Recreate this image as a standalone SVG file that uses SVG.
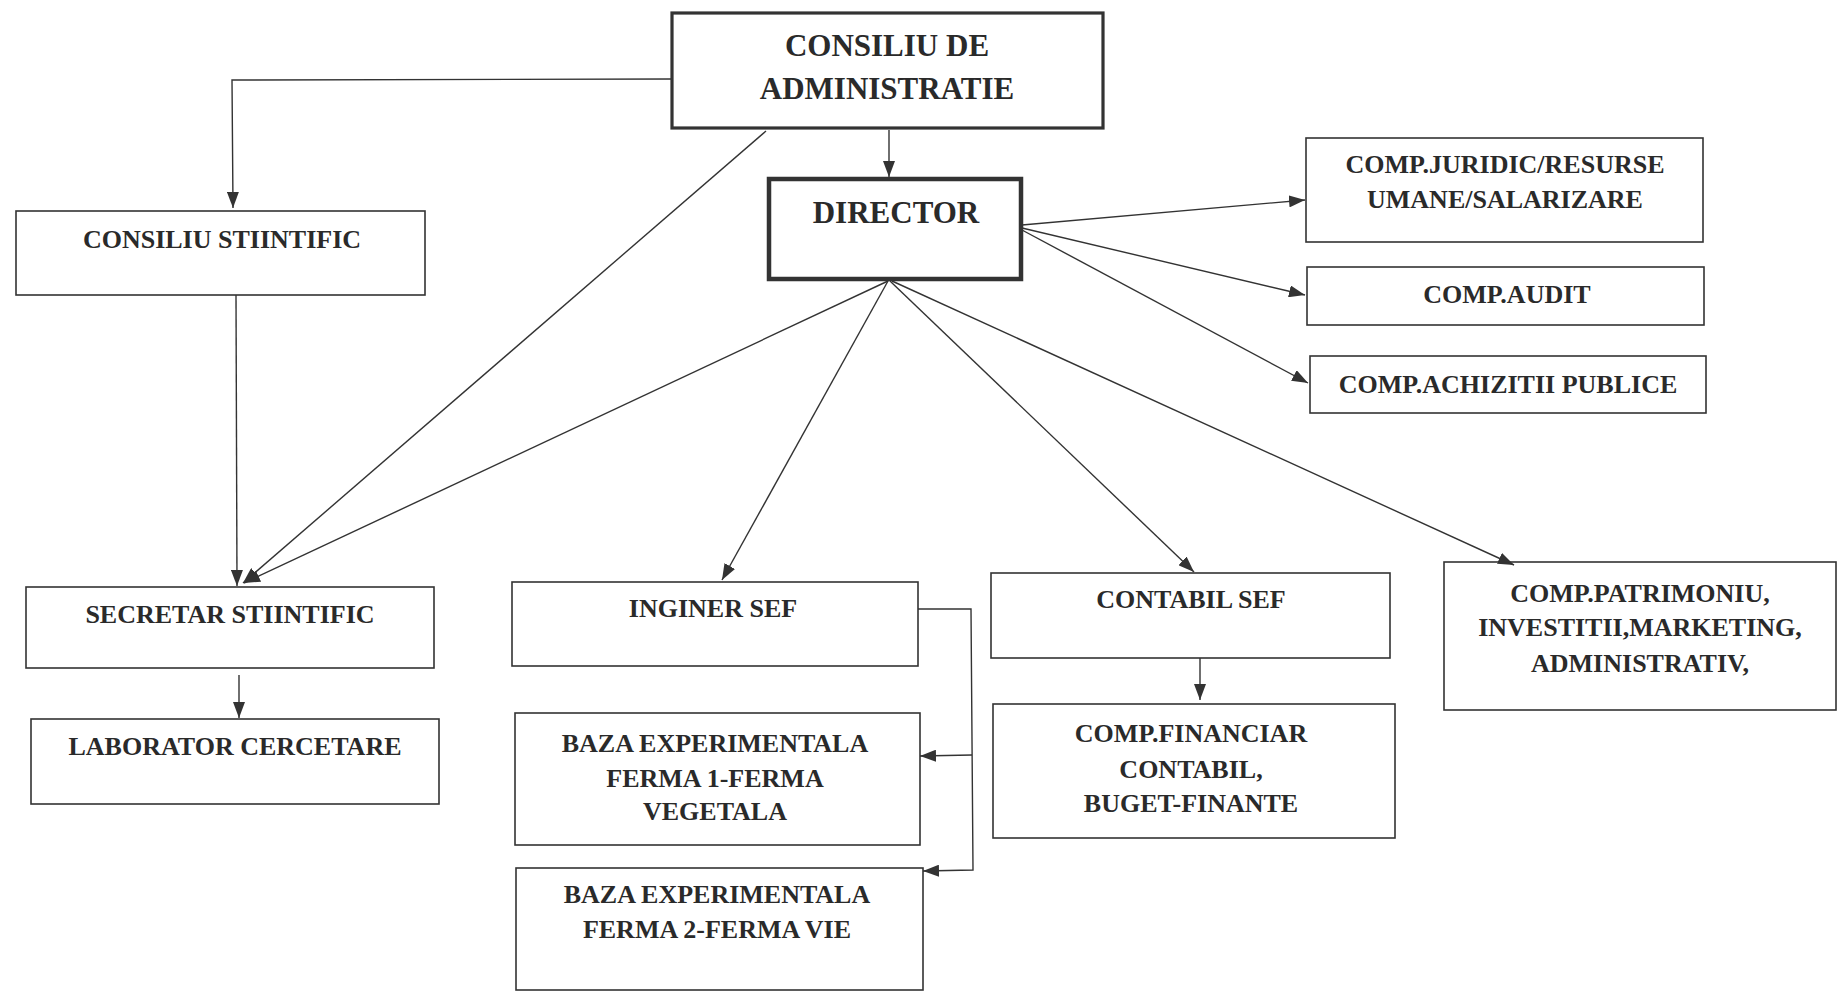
<svg xmlns="http://www.w3.org/2000/svg" width="1838" height="995" viewBox="0 0 1838 995">
<style>
.box{fill:none;stroke:#333;stroke-width:1.6}
.t{font-family:"Liberation Serif",serif;font-weight:bold;font-size:26px;fill:#2a2a2a;text-anchor:middle}
.tb{font-size:31px}
.c{fill:none;stroke:#333;stroke-width:1.4}
</style>
<defs>
<marker id="ah" markerWidth="16" markerHeight="12" refX="16" refY="6" orient="auto" markerUnits="userSpaceOnUse"><path d="M0,0 L16,6 L0,12 Z" fill="#333"/></marker>
</defs>
<rect width="1838" height="995" fill="#fff"/>
<g id="connectors">
<polyline class="c" points="672,79 232,80 233,208" marker-end="url(#ah)"/>
<line class="c" x1="889" y1="130" x2="889" y2="177" marker-end="url(#ah)"/>
<line class="c" x1="766" y1="131" x2="243" y2="583" marker-end="url(#ah)"/>
<line class="c" x1="236" y1="295" x2="237" y2="586" marker-end="url(#ah)"/>
<line class="c" x1="888" y1="281" x2="244" y2="583" marker-end="url(#ah)"/>
<line class="c" x1="888" y1="281" x2="722" y2="580" marker-end="url(#ah)"/>
<line class="c" x1="890" y1="281" x2="1194" y2="572" marker-end="url(#ah)"/>
<line class="c" x1="892" y1="281" x2="1514" y2="565" marker-end="url(#ah)"/>
<line class="c" x1="1022" y1="225" x2="1305" y2="200" marker-end="url(#ah)"/>
<line class="c" x1="1022" y1="228" x2="1305" y2="295" marker-end="url(#ah)"/>
<line class="c" x1="1022" y1="230" x2="1308" y2="383" marker-end="url(#ah)"/>
<line class="c" x1="239" y1="675" x2="239" y2="718" marker-end="url(#ah)"/>
<polyline class="c" points="918,609 971,609 973,870 923,871" marker-end="url(#ah)"/>
<line class="c" x1="972" y1="755" x2="920" y2="756" marker-end="url(#ah)"/>
<line class="c" x1="1200" y1="658" x2="1200" y2="700" marker-end="url(#ah)"/>
</g>
<g id="consiliu-admin">
<rect x="672" y="13" width="431" height="115" fill="none" stroke="#333" stroke-width="3.2"/>
<text class="t tb" x="887" y="56">CONSILIU DE</text>
<text class="t tb" x="887" y="99">ADMINISTRATIE</text>
</g>
<g id="director">
<rect x="769" y="179" width="252" height="100" fill="none" stroke="#333" stroke-width="4.5"/>
<text class="t tb" x="896" y="223">DIRECTOR</text>
</g>
<g id="consiliu-stiintific">
<rect class="box" x="16" y="211" width="409" height="84"/>
<text class="t" x="222" y="248">CONSILIU STIINTIFIC</text>
</g>
<g id="juridic">
<rect class="box" x="1306" y="138" width="397" height="104"/>
<text class="t" x="1505" y="173">COMP.JURIDIC/RESURSE</text>
<text class="t" x="1505" y="208">UMANE/SALARIZARE</text>
</g>
<g id="audit">
<rect class="box" x="1307" y="267" width="397" height="58"/>
<text class="t" x="1507" y="303">COMP.AUDIT</text>
</g>
<g id="achizitii">
<rect class="box" x="1310" y="356" width="396" height="57"/>
<text class="t" x="1508" y="393">COMP.ACHIZITII PUBLICE</text>
</g>
<g id="secretar">
<rect class="box" x="26" y="587" width="408" height="81"/>
<text class="t" x="230" y="623">SECRETAR STIINTIFIC</text>
</g>
<g id="laborator">
<rect class="box" x="31" y="719" width="408" height="85"/>
<text class="t" x="235" y="755">LABORATOR CERCETARE</text>
</g>
<g id="inginer">
<rect class="box" x="512" y="582" width="406" height="84"/>
<text class="t" x="713" y="617">INGINER SEF</text>
</g>
<g id="baza1">
<rect class="box" x="515" y="713" width="405" height="132"/>
<text class="t" x="715" y="752">BAZA EXPERIMENTALA</text>
<text class="t" x="715" y="787">FERMA 1-FERMA</text>
<text class="t" x="715" y="820">VEGETALA</text>
</g>
<g id="baza2">
<rect class="box" x="516" y="868" width="407" height="122"/>
<text class="t" x="717" y="903">BAZA EXPERIMENTALA</text>
<text class="t" x="717" y="938">FERMA 2-FERMA VIE</text>
</g>
<g id="contabil">
<rect class="box" x="991" y="573" width="399" height="85"/>
<text class="t" x="1191" y="608">CONTABIL SEF</text>
</g>
<g id="financiar">
<rect class="box" x="993" y="704" width="402" height="134"/>
<text class="t" x="1191" y="742">COMP.FINANCIAR</text>
<text class="t" x="1191" y="778">CONTABIL,</text>
<text class="t" x="1191" y="812">BUGET-FINANTE</text>
</g>
<g id="patrimoniu">
<rect class="box" x="1444" y="562" width="392" height="148"/>
<text class="t" x="1640" y="602">COMP.PATRIMONIU,</text>
<text class="t" x="1640" y="636">INVESTITII,MARKETING,</text>
<text class="t" x="1640" y="672">ADMINISTRATIV,</text>
</g>
</svg>
